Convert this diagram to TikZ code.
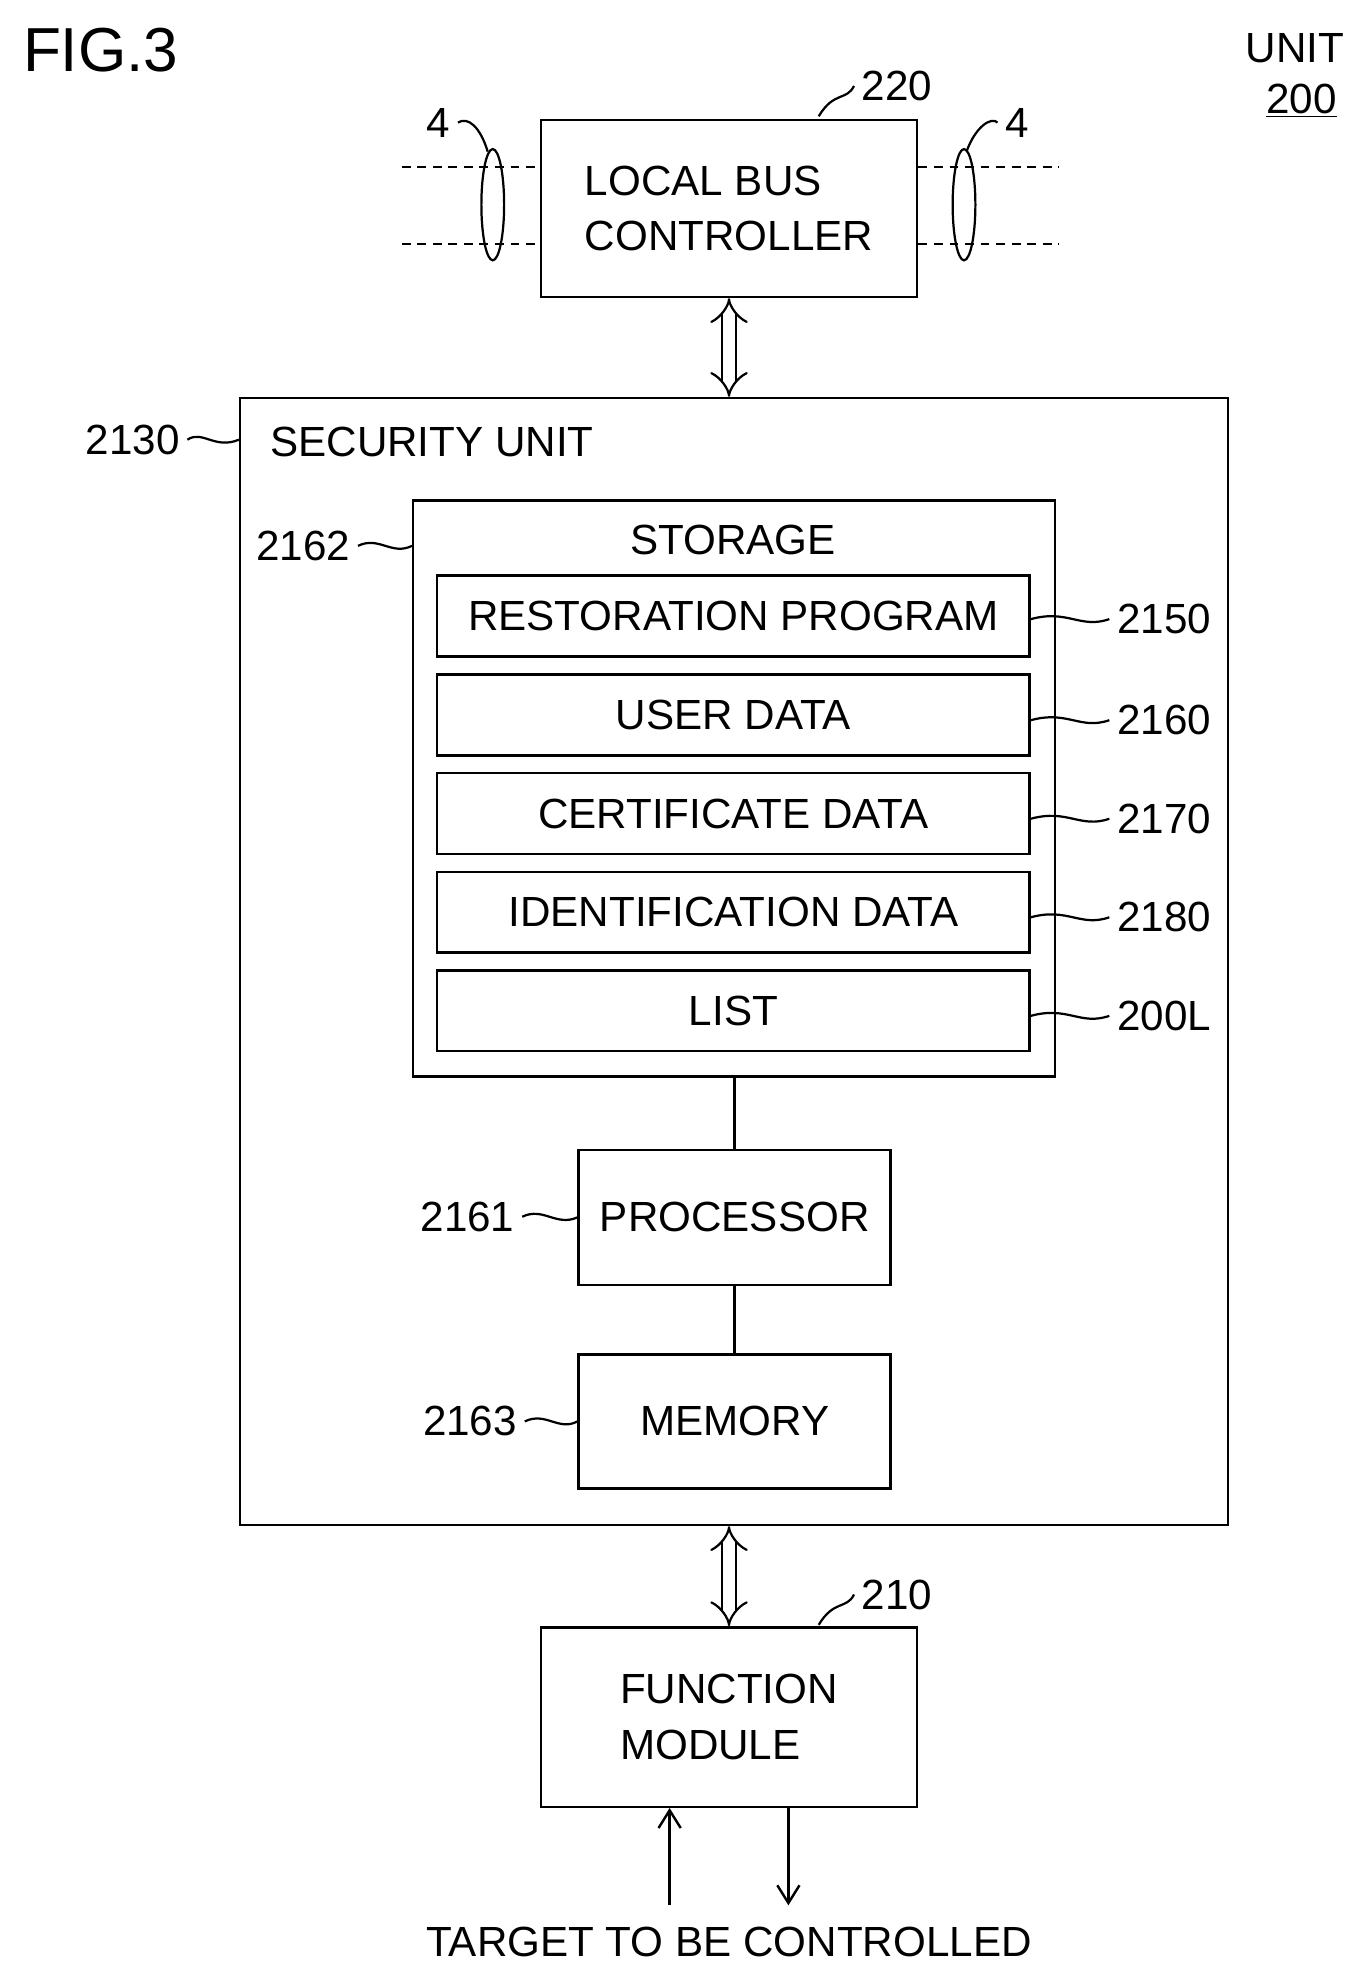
\documentclass[tikz,border=0pt]{standalone}
\usepackage{fontspec}
\setmainfont{Liberation Sans}
\usetikzlibrary{arrows.meta,positioning}
\tikzset{
  box/.style={draw,line width=1.1pt,inner sep=0pt,font=\fontsize{19}{25}\selectfont},
  entry/.style={box,minimum width=9.38cm,minimum height=1.28cm},
  num/.style={font=\fontsize{19}{22}\selectfont},
  lead/.style={line width=1pt},
  dbl/.style={double,double distance=5pt,line width=1pt,{Implies[]}-{Implies[]}},
  sig/.style={line width=1.1pt,-{Straight Barb[length=8pt,width=10pt]}},
}
\begin{document}
\begin{tikzpicture}[x=0.02cm,y=-0.02cm]
\useasboundingbox (0,0) rectangle (1080,1560);
\node[font=\fontsize{28}{30}\selectfont,anchor=west] (fig) at (12,40) {FIG.3};
\node[num] (unit) at (1025,38) {UNIT};
\node[num] (unitno) at (1030,80) {\underline{200}};
% local bus controller
\node[box,minimum width=5.96cm,minimum height=2.8cm,align=left] (lbc) at (577,165) {LOCAL BUS\\CONTROLLER};
\node[num] (n220) at (710,68) {220};
\draw[lead] (648,92) .. controls (660,72) and (670,80) .. (n220.west);
\draw[line width=1pt,dash pattern=on 4pt off 3pt] (318,132) -- (lbc.west |- 0,132);
\draw[line width=1pt,dash pattern=on 4pt off 3pt] (318,193) -- (lbc.west |- 0,193);
\draw[line width=1pt,dash pattern=on 4pt off 3pt] (lbc.east |- 0,132) -- (838,132);
\draw[line width=1pt,dash pattern=on 4pt off 3pt] (lbc.east |- 0,193) -- (838,193);
\draw[lead] (390,162) ellipse [x radius=9,y radius=44];
\draw[lead] (763,162) ellipse [x radius=9,y radius=44];
\node[num] (n4a) at (347,97) {4};
\node[num] (n4b) at (805,97) {4};
\draw[lead] (n4a.east) .. controls (370,92) and (380,100) .. (386,120);
\draw[lead] (n4b.west) .. controls (785,92) and (772,100) .. (765,120);
% security unit
\node[box,minimum width=15.64cm,minimum height=17.84cm] (su) at (581,761) {};
\node[box,draw=none,anchor=west] (sutxt) at (213,350) {SECURITY UNIT};
\node[num] (n2130) at (105,348) {2130};
\draw[lead] (n2130.east) .. controls (160,340) and (170,356) .. (su.west |- 0,348);
\draw[dbl] (lbc.south) -- (lbc.south |- su.north);
% storage
\node[box,minimum width=10.16cm,minimum height=9.12cm] (sto) at (581,624) {};
\node[box,draw=none] (stotxt) at (580,427) {STORAGE};
\node[num] (n2162) at (240,432) {2162};
\draw[lead] (n2162.east) .. controls (300,424) and (310,440) .. (sto.west |- 0,432);
\node[entry] (rest) at (580.5,487.5) {RESTORATION PROGRAM};
\node[entry] (user) at (580.5,566) {USER DATA};
\node[entry] (cert) at (580.5,644) {CERTIFICATE DATA};
\node[entry] (ident) at (580.5,722) {IDENTIFICATION DATA};
\node[entry] (list) at (580.5,800) {LIST};
\foreach \e/\t/\y in {rest/2150/490,user/2160/570,cert/2170/648,ident/2180/726,list/200L/804}{
  \node[num,anchor=west] (n\t) at (878,\y) {\t};
  \draw[lead] (\e.east |- 0,\y) .. controls (845,\y-8) and (855,\y+8) .. (n\t.west);
}
% processor and memory
\node[box,minimum width=4.94cm,minimum height=2.14cm] (proc) at (581.5,963.5) {PROCESSOR};
\node[box,minimum width=4.94cm,minimum height=2.12cm] (mem) at (581.5,1125) {MEMORY};
\node[num] (n2161) at (370,963) {2161};
\node[num] (n2163) at (372,1125) {2163};
\draw[lead] (n2161.east) .. controls (430,955) and (440,971) .. (proc.west);
\draw[lead] (n2163.east) .. controls (432,1117) and (442,1133) .. (mem.west);
\draw[line width=1.1pt] (sto.south -| proc) -- (proc.north);
\draw[line width=1.1pt] (proc.south) -- (mem.north);
% function module
\node[box,minimum width=5.96cm,minimum height=2.84cm,align=left] (fm) at (577,1359) {FUNCTION\\MODULE};
\draw[dbl] (fm.north |- su.south) -- (fm.north);
\node[num] (n210) at (710,1262) {210};
\draw[lead] (648,1286) .. controls (660,1266) and (670,1274) .. (n210.west);
\node[box,draw=none] (target) at (577,1537) {TARGET TO BE CONTROLLED};
\coordinate (inb) at (530,1508);
\coordinate (outb) at (624,1508);
\draw[sig] (inb) -- (inb |- fm.south);
\draw[sig] (outb |- fm.south) -- (outb);
\end{tikzpicture}
\end{document}
